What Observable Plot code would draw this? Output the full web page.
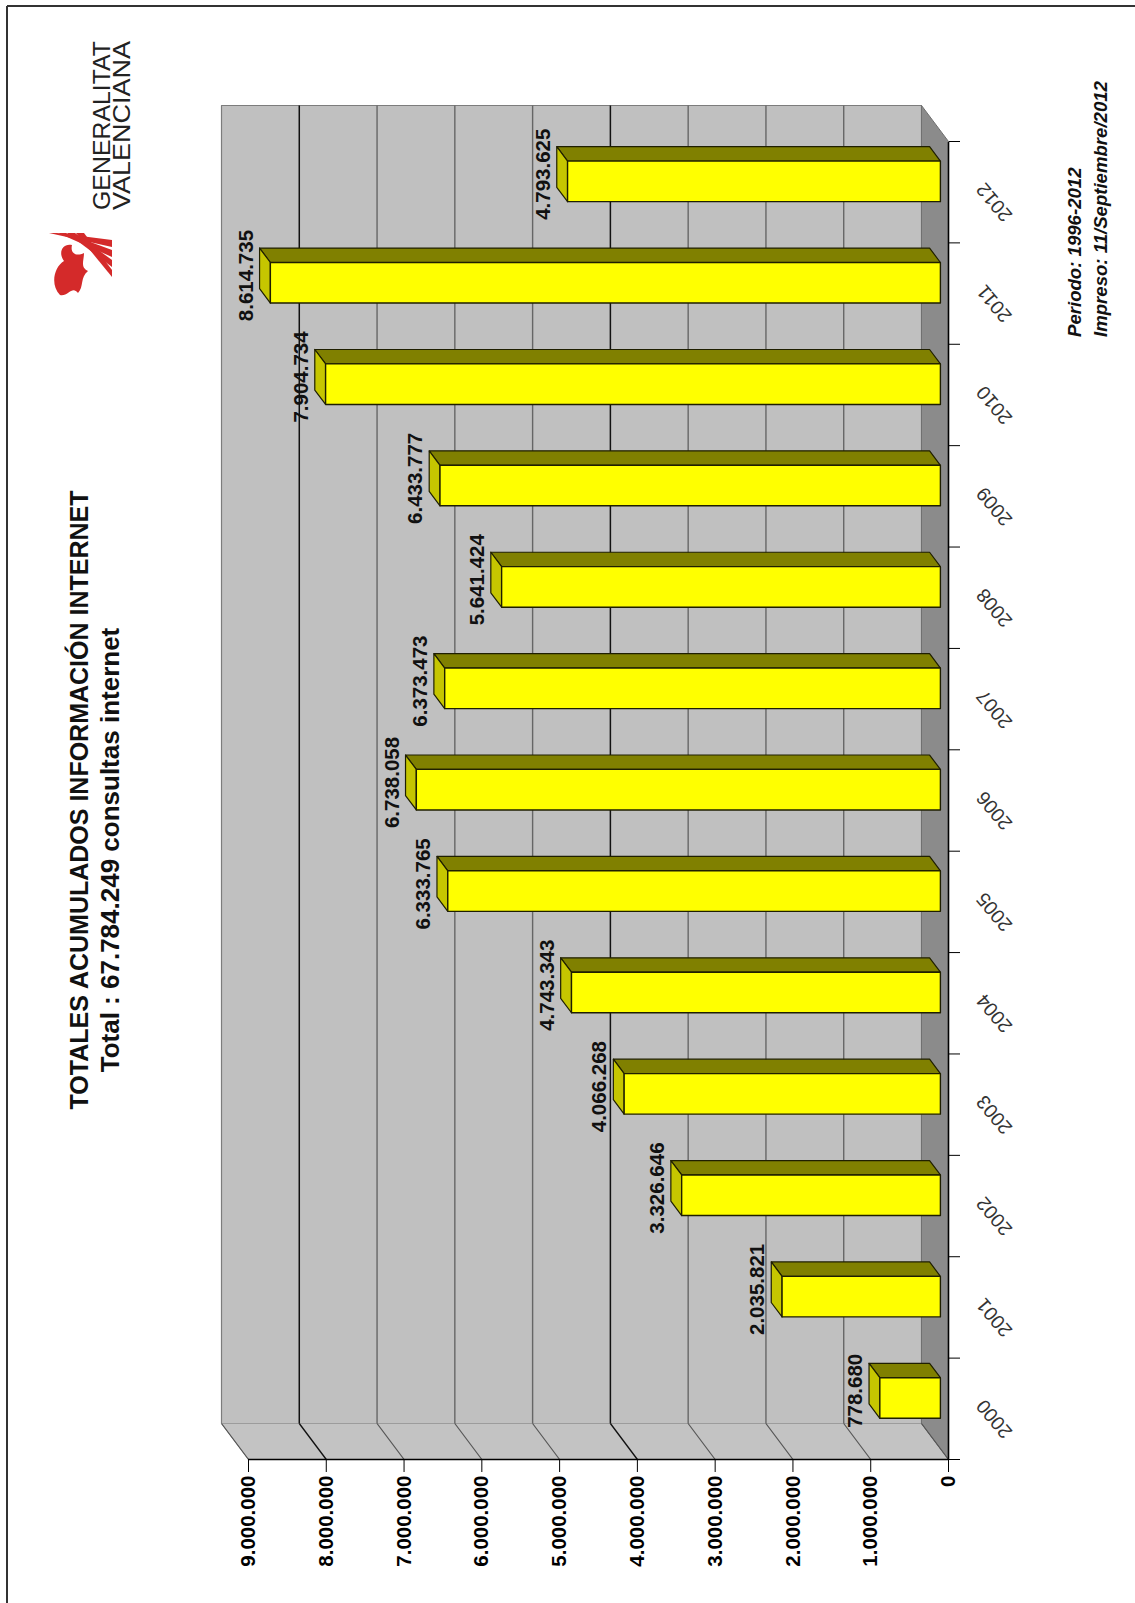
<!DOCTYPE html>
<html>
<head>
<meta charset="utf-8">
<script src="https://cdn.jsdelivr.net/npm/d3@7"></script>
<script src="https://cdn.jsdelivr.net/npm/@observablehq/plot@0.6"></script>
<style>
  html, body { margin: 0; padding: 0; width: 1135px; height: 1603px; overflow: hidden; background: #fff; }
  #page { position: absolute; left: 0; top: 0; width: 1603px; height: 1135px; background: #fff;
          transform-origin: 0 0; transform: translate(0px, 1603px) rotate(-90deg); }
  #chart, #overlay { position: absolute; left: 0; top: 0; }
  #overlay { pointer-events: none; }
  .tx { font-family: "Liberation Sans", Arial, sans-serif; }
</style>
</head>
<body>
<div id="page">
  <div id="chart"></div>
  <svg id="overlay" width="1603" height="1135"></svg>
</div>
<script>
// ---------------- data ----------------
const years = [2000, 2001, 2002, 2003, 2004, 2005, 2006, 2007, 2008, 2009, 2010, 2011, 2012];
const yearLabels = years.map(String);
const consultas = [778680, 2035821, 3326646, 4066268, 4743343, 6333765, 6738058, 6373473, 5641424, 6433777, 7904734, 8614735, 4793625];
const valueTicks = [0, 1000000, 2000000, 3000000, 4000000, 5000000, 6000000, 7000000, 8000000, 9000000];
const darkGridValues = [4000000, 8000000];
const titleText = "TOTALES ACUMULADOS INFORMACIÓN INTERNET";
const subtitleText = "Total : 67.784.249 consultas internet";
const footerLines = ["Periodo: 1996-2012", "Impreso: 11/Septiembre/2012"];
const logoLines = ["GENERALITAT", "VALENCIANA"];

// ---------------- layout (landscape page, rotated afterwards) ----------------
const W = 1603, H = 1135;
const mL = 143, mR = 142, mT = 248, mB = 187;
const yMax = 9000000;
const depthPx = [36, 27];         // back-wall offset (right, up) in px
const barFront = 0.30, barBack = 0.70, barHalf = 0.2;

const fmt = d3.formatLocale({decimal: ",", thousands: ".", grouping: [3], currency: ["", ""]}).format(",d");
const n = years.length;
const bandPx = (W - mL - mR) / n;
const valPerPx = yMax / (H - mT - mB);
const DX = depthPx[0] / bandPx;
const DY = depthPx[1] * valPerPx;

function poly(id, pts) {
  return pts.concat([pts[0]]).map(([x, y]) => ({id, x, y}));
}
const xa = -0.5, xb = n - 0.5;
const backWall = poly("back", [[xa + DX, DY], [xb + DX, DY], [xb + DX, yMax + DY], [xa + DX, yMax + DY]]);
const sideWall = poly("side", [[xa, 0], [xa, yMax], [xa + DX, yMax + DY], [xa + DX, DY]]);
const floor = poly("floor", [[xa, 0], [xb, 0], [xb + DX, DY], [xa + DX, DY]]);

const fronts = [], tops = [], sides = [];
consultas.forEach((v, i) => {
  const f0x = barFront * DX, f0y = barFront * DY, f1x = barBack * DX, f1y = barBack * DY;
  const l = i - barHalf, r = i + barHalf;
  fronts.push(...poly("f" + i, [[l + f0x, f0y], [r + f0x, f0y], [r + f0x, v + f0y], [l + f0x, v + f0y]]));
  tops.push(...poly("t" + i, [[l + f0x, v + f0y], [r + f0x, v + f0y], [r + f1x, v + f1y], [l + f1x, v + f1y]]));
  sides.push(...poly("s" + i, [[r + f0x, f0y], [r + f0x, v + f0y], [r + f1x, v + f1y], [r + f1x, f1y]]));
});

const gridInner = valueTicks.filter(t => t > 0 && t < yMax);
const gridMinor = valueTicks.filter(t => !darkGridValues.includes(t));
const gridMajor = valueTicks.filter(t => darkGridValues.includes(t));
const boundaries = d3.range(n + 1).map(k => k - 0.5);
const labelData = consultas.map((v, i) => ({i, v, year: yearLabels[i]}));

const chart = Plot.plot({
  width: W, height: H,
  marginLeft: mL, marginRight: mR, marginTop: mT, marginBottom: mB,
  style: "font-family: 'Liberation Sans', Arial, sans-serif; font-size: 20.5px; font-weight: bold; background: transparent; overflow: visible; color: #000;",
  x: {type: "linear", domain: [xa, xb], ticks: boundaries, tickSize: 12, tickFormat: () => "", label: null},
  y: {type: "linear", domain: [0, yMax], ticks: valueTicks, tickSize: 12, tickPadding: 4, tickFormat: fmt, label: null},
  marks: [
    Plot.line(backWall, {x: "x", y: "y", z: "id", fill: "#c0c0c0", stroke: "#7c7c7c", strokeWidth: 1.2}),
    Plot.line(sideWall, {x: "x", y: "y", z: "id", fill: "#c3c3c3", stroke: "#9c9c9c", strokeWidth: 1}),
    Plot.line(floor, {x: "x", y: "y", z: "id", fill: "#8b8b8b", stroke: "#707070", strokeWidth: 1}),
    // grid on back wall
    Plot.link(gridInner.filter(t => !darkGridValues.includes(t)), {x1: xa + DX, x2: xb + DX, y1: d => d + DY, y2: d => d + DY, stroke: "#666", strokeWidth: 1.4}),
    Plot.link(gridInner.filter(t => darkGridValues.includes(t)), {x1: xa + DX, x2: xb + DX, y1: d => d + DY, y2: d => d + DY, stroke: "#111", strokeWidth: 1.5}),
    // grid on side wall
    Plot.link(gridMinor, {x1: xa, x2: xa + DX, y1: d => d, y2: d => d + DY, stroke: "#555", strokeWidth: 1.2}),
    Plot.link(gridMajor, {x1: xa, x2: xa + DX, y1: d => d, y2: d => d + DY, stroke: "#111", strokeWidth: 1.3}),
    // bars
    Plot.line(sides, {x: "x", y: "y", z: "id", fill: "#808000", stroke: "#1f1f00", strokeWidth: 1.2}),
    Plot.line(tops, {x: "x", y: "y", z: "id", fill: "#c6c600", stroke: "#1f1f00", strokeWidth: 1.2}),
    Plot.line(fronts, {x: "x", y: "y", z: "id", fill: "#ffff00", stroke: "#1f1f00", strokeWidth: 1.4}),
    // front axis lines
    Plot.ruleY([0], {x1: xa, x2: xb, stroke: "#000", strokeWidth: 1.6}),
    Plot.ruleX([xa], {y1: 0, y2: yMax, stroke: "#000", strokeWidth: 1.6}),
    // value labels
    Plot.text(labelData, {
      x: d => d.i + (barFront + barBack) / 2 * DX,
      y: d => d.v + barBack * DY,
      text: d => fmt(d.v),
      dy: -7, lineAnchor: "bottom", textAnchor: "middle",
      fontSize: 20.5, fontWeight: "bold", fill: "#111"
    }),
    // year labels
    Plot.text(labelData, {
      x: "i", y: 0, text: "year", rotate: -40,
      dx: -10, dy: 46, textAnchor: "middle", lineAnchor: "middle",
      fontSize: 19.5, fontWeight: "normal", fill: "#333"
    })
  ]
});
document.getElementById("chart").appendChild(chart);

// ---------------- titles, logo, footer, border ----------------
const ov = d3.select("#overlay");
ov.append("line").attr("x1", 0).attr("x2", 1597).attr("y1", 7).attr("y2", 7).attr("stroke", "#333").attr("stroke-width", 2);
ov.append("line").attr("x1", 1597).attr("x2", 1597).attr("y1", 7).attr("y2", H).attr("stroke", "#333").attr("stroke-width", 2);

ov.append("text").attr("class", "tx").attr("x", 803).attr("y", 88).attr("text-anchor", "middle")
  .attr("font-size", 25).attr("font-weight", "bold").attr("fill", "#111").text(titleText);
ov.append("text").attr("class", "tx").attr("x", 753).attr("y", 119).attr("text-anchor", "middle")
  .attr("font-size", 26).attr("font-weight", "bold").attr("fill", "#111").text(subtitleText);

footerLines.forEach((t, k) => {
  ov.append("text").attr("class", "tx").attr("x", 1266).attr("y", 1081 + k * 26)
    .attr("font-size", 18.6).attr("font-weight", "bold").attr("font-style", "italic").attr("fill", "#111").text(t);
});

// logo: emblem + wordmark
const logo = ov.append("g");
logo.append("path").attr("fill", "#d42a2a")
  .attr("d", "M1308,60 C1318,50 1336,54 1342,64 C1350,58 1360,62 1358,72 C1350,70 1346,76 1350,84 C1342,84 1336,80 1332,88 C1326,80 1316,84 1310,78 C1318,72 1306,68 1308,60 Z");
[0, 1, 2, 3].forEach(k => {
  logo.append("path").attr("fill", "#d42a2a")
    .attr("d", `M${1326 + k * 10},112 L${1333 + k * 10},112 L${1370},${84 - k * 9} L${1370},${76 - k * 9} Z`);
});
logoLines.forEach((t, k) => {
  ov.append("text").attr("class", "tx").attr("x", 1393).attr("y", 110 + k * 20)
    .attr("font-size", 24).attr("textLength", 169).attr("lengthAdjust", "spacingAndGlyphs")
    .attr("fill", "#222").text(t);
});
</script>
</body>
</html>
